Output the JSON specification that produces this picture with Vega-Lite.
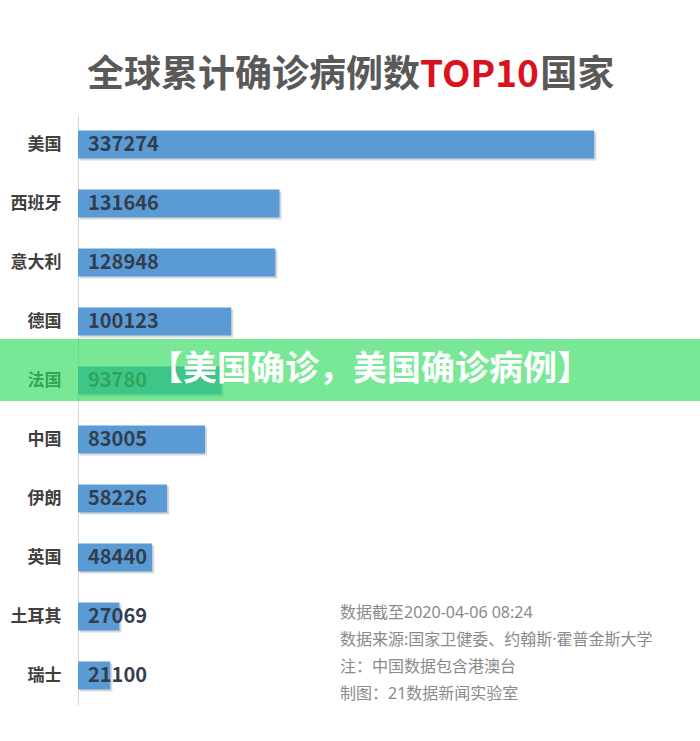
{
  "$schema": "https://vega.github.io/schema/vega-lite/v6.json",
  "width": 600,
  "height": 590,
  "autosize": {"type": "none"},
  "padding": {"left": 78, "top": 115, "right": 22, "bottom": 36},
  "background": "#ffffff",
  "config": {
    "view": {"stroke": null},
    "font": "Noto Sans CJK SC"
  },
  "title": {
    "text": "全球累计确诊病例数\u3000\u3000\u3000\u2005国家",
    "subtitle": "\u200b\u3000\u3000\u3000\u3000\u3000\u3000\u3000\u3000\u3000TOP10",
    "anchor": "start",
    "frame": "group",
    "dx": 9,
    "font": "Noto Sans CJK SC",
    "fontSize": 37,
    "fontWeight": "bold",
    "color": "#595959",
    "subtitleFont": "Noto Sans CJK SC",
    "subtitleFontSize": 37,
    "subtitleFontWeight": "bold",
    "subtitleColor": "#d9121b",
    "subtitlePadding": -37,
    "offset": 20
  },
  "data": {
    "values": [
      {"country": "美国", "cases": 337274},
      {"country": "西班牙", "cases": 131646},
      {"country": "意大利", "cases": 128948},
      {"country": "德国", "cases": 100123},
      {"country": "法国", "cases": 93780},
      {"country": "中国", "cases": 83005},
      {"country": "伊朗", "cases": 58226},
      {"country": "英国", "cases": 48440},
      {"country": "土耳其", "cases": 27069},
      {"country": "瑞士", "cases": 21100}
    ]
  },
  "encoding": {
    "y": {
      "field": "country",
      "type": "nominal",
      "sort": null,
      "scale": {"paddingInner": 0.525, "paddingOuter": 0.2625},
      "axis": {
        "title": null,
        "ticks": false,
        "domainColor": "#d4d4d4",
        "domainWidth": 1,
        "labelFont": "Noto Sans CJK SC",
        "labelFontSize": 17,
        "labelFontWeight": "bold",
        "labelColor": "#404040",
        "labelPadding": 17
      }
    }
  },
  "layer": [
    {
      "mark": {"type": "bar", "color": "#7f7f7f", "opacity": 0.3, "xOffset": 2, "yOffset": 2},
      "encoding": {
        "x": {"field": "cases", "type": "quantitative", "scale": {"domain": [0, 392000], "nice": false, "zero": true}, "axis": null}
      }
    },
    {
      "mark": {"type": "bar", "color": "#5b9bd5"},
      "encoding": {
        "x": {"field": "cases", "type": "quantitative"}
      }
    },
    {
      "mark": {"type": "text", "align": "left", "baseline": "middle", "dx": 10, "font": "Noto Sans CJK SC", "fontSize": 20, "fontWeight": "bold", "color": "#323e4d"},
      "encoding": {
        "x": {"datum": 0, "type": "quantitative"},
        "text": {"field": "cases", "type": "quantitative", "format": "d"}
      }
    },
    {
      "data": {"values": [{"note": "数据截至2020-04-06 08:24\n数据来源:国家卫健委、约翰斯·霍普金斯大学\n注：中国数据包含港澳台\n制图：21数据新闻实验室"}]},
      "mark": {"type": "text", "align": "left", "baseline": "top", "lineBreak": "\n", "lineHeight": 27, "font": "Noto Sans, Noto Sans CJK SC", "fontSize": 16, "color": "#8a8a8a"},
      "encoding": {
        "x": {"datum": 171200, "type": "quantitative"},
        "y": {"datum": "土耳其", "bandPosition": 0.08},
        "text": {"field": "note", "type": "nominal"}
      }
    },
    {
      "data": {"values": [{"banner": "【美国确诊，美国确诊病例】"}]},
      "mark": {"type": "rect", "color": "#2fdc60", "opacity": 0.65},
      "encoding": {
        "x": {"datum": -51000, "type": "quantitative"},
        "x2": {"datum": 407000},
        "y": {"datum": "德国", "bandPosition": 1.124},
        "y2": {"datum": "法国", "bandPosition": 1.231}
      }
    },
    {
      "data": {"values": [{"banner": "【美国确诊，美国确诊病例】"}]},
      "mark": {"type": "text", "align": "center", "baseline": "middle", "font": "Noto Sans CJK SC", "fontSize": 34, "fontWeight": "bold", "color": "#ffffff"},
      "encoding": {
        "x": {"datum": 190800, "type": "quantitative"},
        "y": {"datum": "法国", "bandPosition": 0.125},
        "text": {"field": "banner", "type": "nominal"}
      }
    }
  ]
}
